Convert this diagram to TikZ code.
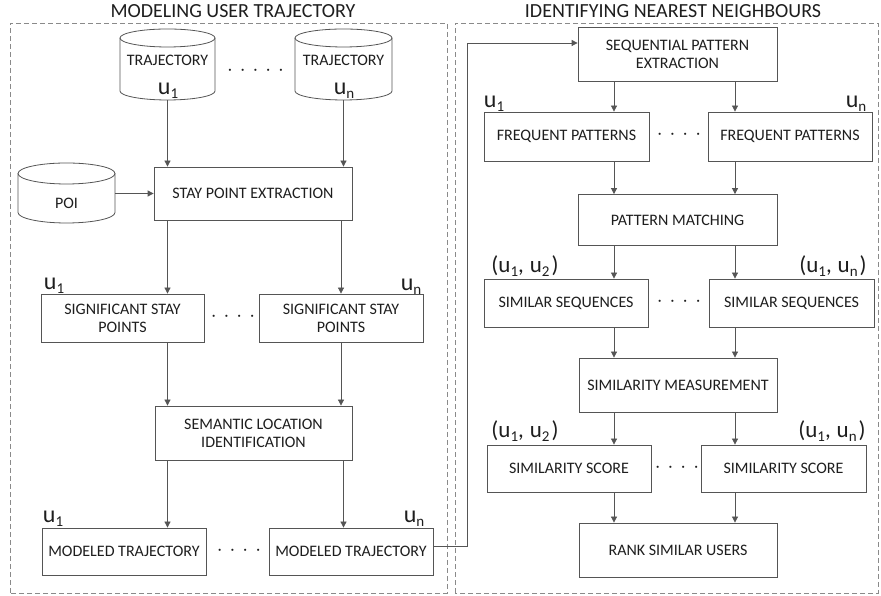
\documentclass[tikz,border=0pt]{standalone}
\usepackage{fontspec}
\setmainfont{Carlito}
\usetikzlibrary{arrows.meta}

\definecolor{edge}{HTML}{555555}
\definecolor{frame}{HTML}{8A8A8A}
\definecolor{ink}{HTML}{1E1E1E}

% user index with a lowered subscript in the same face
\newcommand\usr[1]{u\raisebox{-4pt}{\fontsize{15}{15}\selectfont #1}}
% user pair, as (u1, u2)
\newcommand\upair[2]{(\usr{#1},\hspace{6pt}\usr{#2}\kern2pt)}
% drum shaped store: centre x, half width, top, bottom, name, cap radius
\newcommand\drum[6]{%
  \draw[cyl] (#1,#3-#6) ellipse [x radius=#2, y radius=#6];
  \draw[cyl] (#1-#2,#3-#6) -- (#1-#2,#4+#6)
    arc [start angle=180, end angle=360, x radius=#2, y radius=#6] -- (#1+#2,#3-#6);
  \node[inner sep=0pt, minimum width=2*#2, minimum height=#3-#4] (#5) at (#1,{(#3+#4)/2}) {};
}

\tikzset{
  box/.style={draw=edge, line width=0.8pt, fill=white, text=ink, align=center,
    inner sep=0pt, font=\fontsize{16}{18}\selectfont},
  cyl/.style={draw=edge, line width=0.8pt},
  flow/.style={draw=edge, line width=0.8pt, -{Triangle[length=6pt,width=6pt]}},
  group/.style={draw=frame, line width=0.8pt, dash pattern=on 5pt off 3pt},
  heading/.style={text=ink, font=\fontsize{20}{20}\selectfont},
  ulab/.style={text=ink, font=\fontsize{24}{24}\selectfont, inner sep=0pt, anchor=base},
  plab/.style={text=ink, font=\fontsize{23}{23}\selectfont, inner sep=0pt, anchor=base},
  plain/.style={text=ink, font=\fontsize{16}{16}\selectfont, inner sep=0pt},
  dots/.style={text=ink, font=\fontsize{15}{15}\selectfont, inner sep=0pt},
}

\begin{document}
\begin{tikzpicture}[x=1pt, y=1pt]
\useasboundingbox (0,0) rectangle (881,596);
\fill[white] (0,0) rectangle (881,596);

% ---------- group frames and headings ----------
\draw[group] (10,3) rectangle (447,573);
\draw[group] (455,3) rectangle (878,573);
\node[heading] (h1) at (233,585) {MODELING USER TRAJECTORY};
\node[heading] (h2) at (673,585) {IDENTIFYING NEAREST NEIGHBOURS};

% ---------- left: modeling user trajectory ----------
\drum{167.5}{47.5}{567}{496}{tr1}{9}
\drum{343.5}{48.5}{567}{496}{trn}{9}
\drum{66.5}{48.5}{433}{373}{poi}{10.5}
\node[plain] (tr1t) at (167.5,536) {TRAJECTORY};
\node[plain] (trnt) at (343.5,536) {TRAJECTORY};
\node[ulab] (tr1u) at (168,501) {\usr{1}};
\node[ulab] (trnu) at (344,501) {\usr{n}};
\node[plain] (poit) at (66.5,393) {POI};
\node[dots] (trd) at (255.5,524) {·\hspace{9pt}·\hspace{9pt}·\hspace{9pt}·\hspace{9pt}·};

\node[box, minimum width=198pt, minimum height=53pt] (sp) at (253,402.5) {STAY POINT EXTRACTION};

\node[box, minimum width=163pt, minimum height=48pt] (sg1) at (122.5,278) {SIGNIFICANT STAY\\POINTS};
\node[box, minimum width=164pt, minimum height=48pt] (sgn) at (341,278) {SIGNIFICANT STAY\\POINTS};
\node[ulab] (sg1u) at (54,306) {\usr{1}};
\node[ulab] (sgnu) at (411,305) {\usr{n}};
\node[dots] (sgd) at (233,278) {·\hspace{9pt}·\hspace{9pt}·\hspace{9pt}·};

\node[box, minimum width=197pt, minimum height=54pt] (sem) at (253.5,163) {SEMANTIC LOCATION\\IDENTIFICATION};

\node[box, minimum width=164pt, minimum height=47pt] (mt1) at (124,44.5) {MODELED TRAJECTORY};
\node[box, minimum width=164pt, minimum height=47pt] (mtn) at (351,44.5) {MODELED TRAJECTORY};
\node[ulab] (mt1u) at (53,73) {\usr{1}};
\node[ulab] (mtnu) at (414,73) {\usr{n}};
\node[dots] (mtd) at (239,44) {·\hspace{9pt}·\hspace{9pt}·\hspace{9pt}·};

\draw[flow] (tr1.south) -- (tr1.south |- sp.north);
\draw[flow] (trn.south) -- (trn.south |- sp.north);
\draw[flow] (poi.east |- sp.west) -- (sp.west);
\draw[flow] (tr1 |- sp.south) -- (tr1 |- sg1.north);
\draw[flow] (sgn.north |- sp.south) -- (sgn.north);
\draw[flow] (tr1 |- sg1.south) -- (tr1 |- sem.north);
\draw[flow] (sgn.south) -- (sgn.south |- sem.north);
\draw[flow] (tr1 |- sem.south) -- (tr1 |- mt1.north);
\draw[flow] (trn |- sem.south) -- (trn |- mtn.north);

% ---------- right: identifying nearest neighbours ----------
\coordinate (cl) at (614,0);
\coordinate (cr) at (735,0);

\node[box, minimum width=199pt, minimum height=54pt] (seq) at (677.5,542) {SEQUENTIAL PATTERN\\EXTRACTION};

\node[box, minimum width=165pt, minimum height=49pt] (fp1) at (566.5,459.5) {FREQUENT PATTERNS};
\node[box, minimum width=164pt, minimum height=49pt] (fpn) at (790,459.5) {FREQUENT PATTERNS};
\node[ulab] (fp1u) at (494,488) {\usr{1}};
\node[ulab] (fpnu) at (856,488) {\usr{n}};
\node[dots] (fpd) at (679,460) {·\hspace{9pt}·\hspace{9pt}·\hspace{9pt}·};

\node[box, minimum width=199pt, minimum height=51pt] (pm) at (677.5,376) {PATTERN MATCHING};

\node[box, minimum width=164pt, minimum height=48pt] (ss1) at (566,293) {SIMILAR SEQUENCES};
\node[box, minimum width=165pt, minimum height=48pt] (ssn) at (791.5,293) {SIMILAR SEQUENCES};
\node[plab] (ss1u) at (525,323) {\upair{1}{2}};
\node[plab] (ssnu) at (833,323) {\upair{1}{n}};
\node[dots] (ssd) at (679,293) {·\hspace{9pt}·\hspace{9pt}·\hspace{9pt}·};

\node[box, minimum width=198pt, minimum height=54pt] (sm) at (678,211) {SIMILARITY MEASUREMENT};

\node[box, minimum width=164pt, minimum height=47pt] (sc1) at (569,127.5) {SIMILARITY SCORE};
\node[box, minimum width=165pt, minimum height=47pt] (scn) at (783.5,127.5) {SIMILARITY SCORE};
\node[plab] (sc1u) at (525,158) {\upair{1}{2}};
\node[plab] (scnu) at (832,158) {\upair{1}{n}};
\node[dots] (scd) at (677,127.5) {·\hspace{9pt}·\hspace{9pt}·\hspace{9pt}·};

\node[box, minimum width=198pt, minimum height=54pt] (rk) at (678,46) {RANK SIMILAR USERS};

\draw[flow] ([yshift=5pt]mtn.east) -- ++(34,0) |- ([yshift=11pt]seq.west);
\draw[flow] (cl |- seq.south) -- (cl |- fp1.north);
\draw[flow] (cr |- seq.south) -- (cr |- fpn.north);
\draw[flow] (cl |- fp1.south) -- (cl |- pm.north);
\draw[flow] (cr |- fpn.south) -- (cr |- pm.north);
\draw[flow] (cl |- pm.south) -- (cl |- ss1.north);
\draw[flow] (cr |- pm.south) -- (cr |- ssn.north);
\draw[flow] (cl |- ss1.south) -- (cl |- sm.north);
\draw[flow] (cr |- ssn.south) -- (cr |- sm.north);
\draw[flow] (cl |- sm.south) -- (cl |- sc1.north);
\draw[flow] (cr |- sm.south) -- (cr |- scn.north);
\draw[flow] (cl |- sc1.south) -- (cl |- rk.north);
\draw[flow] (cr |- scn.south) -- (cr |- rk.north);
\end{tikzpicture}
\end{document}
